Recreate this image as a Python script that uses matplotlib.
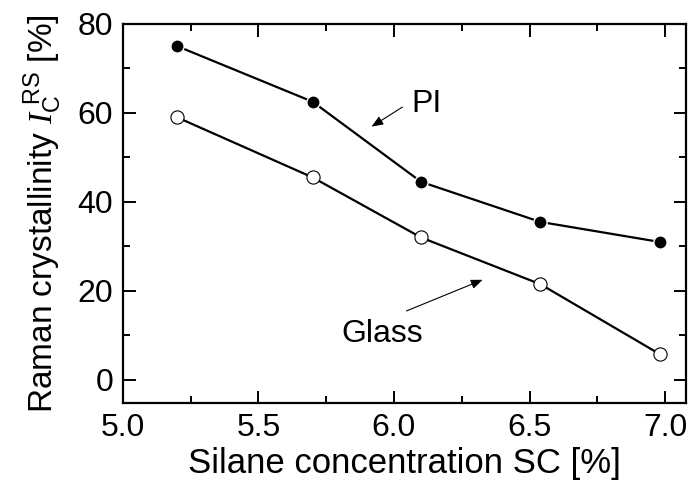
import matplotlib
matplotlib.use("Agg")
import matplotlib.pyplot as plt
from matplotlib.ticker import MultipleLocator

plt.rcParams['font.family'] = ['Liberation Sans', 'DejaVu Sans']
plt.rcParams['mathtext.fontset'] = 'custom'
plt.rcParams['mathtext.rm'] = 'Liberation Sans'
plt.rcParams['mathtext.it'] = 'Liberation Serif:italic'

# data
sc = [5.2, 5.7, 6.1, 6.54, 6.98]
pi_cryst = [75.0, 62.5, 44.5, 35.5, 31.0]
glass_cryst = [59.0, 45.5, 32.0, 21.5, 5.8]

fig = plt.figure(figsize=(6.94, 4.97), dpi=100)
ax = fig.add_axes([0.177, 0.189, 0.8115, 0.763])

ax.plot(sc, pi_cryst, color="black", lw=1.6, marker="o", ms=9.5,
        mfc="black", mec="white", mew=1.0, zorder=3)
ax.plot(sc, glass_cryst, color="black", lw=1.6, marker="o", ms=9.5,
        mfc="white", mec="black", mew=0.8, zorder=3)

ax.annotate("", xy=(5.917, 56.9), xytext=(6.031, 61.3),
            arrowprops=dict(arrowstyle="-|>,head_length=0.5,head_width=0.2",
                            color="black", lw=0.8,
                            mutation_scale=14, shrinkA=0, shrinkB=0))
ax.text(6.065, 62.0, "PI", fontsize=23, va="center", ha="left")

ax.annotate("", xy=(6.327, 22.5), xytext=(6.046, 15.5),
            arrowprops=dict(arrowstyle="-|>,head_length=0.5,head_width=0.2",
                            color="black", lw=0.8,
                            mutation_scale=14, shrinkA=0, shrinkB=0))
ax.text(5.806, 10.3, "Glass", fontsize=23, va="center", ha="left")

ax.set_xlim(5.0, 7.077)
ax.set_ylim(-5.2, 80)
ax.xaxis.set_major_locator(MultipleLocator(0.5))
ax.xaxis.set_minor_locator(MultipleLocator(0.25))
ax.yaxis.set_major_locator(MultipleLocator(20))
ax.yaxis.set_minor_locator(MultipleLocator(10))
ax.xaxis.set_major_formatter(plt.FormatStrFormatter("%.1f"))

ax.tick_params(which="both", direction="in", top=True, right=True,
               labelsize=23, width=1.4, pad=7)
ax.tick_params(which="major", length=9)
ax.tick_params(which="minor", length=5)
for s in ax.spines.values():
    s.set_linewidth(1.6)

ax.set_xlabel("Silane concentration SC [%]", fontsize=25, labelpad=3)
ax.set_ylabel(r"Raman crystallinity $I_{\mathrm{C}}^{\ \mathrm{RS}}$ [%]",
              fontsize=24, labelpad=10)

fig.savefig("out.png", dpi=100)
